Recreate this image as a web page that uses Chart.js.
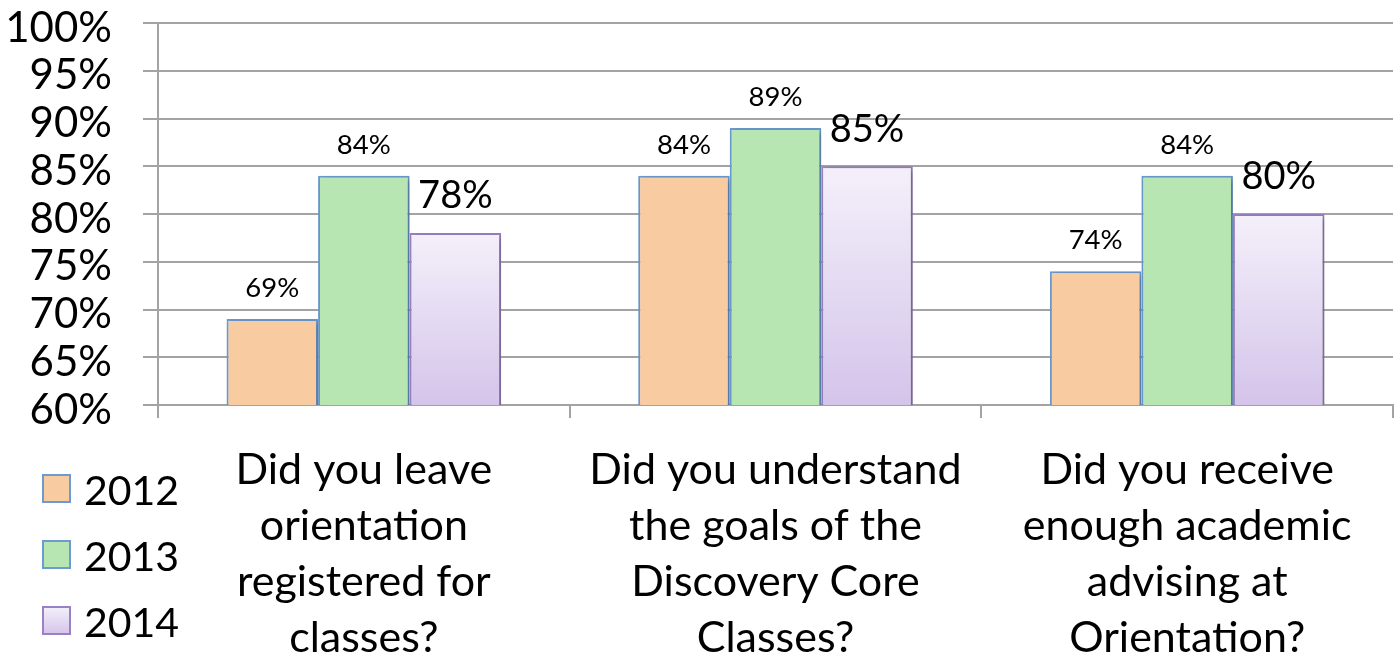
<!DOCTYPE html>
<html lang="en">
<head>
<meta charset="UTF-8">
<title>Orientation Survey</title>
<script src="https://cdn.jsdelivr.net/npm/chart.js"></script>
<style>
    body { margin: 0; background: #fff; }
    #wrap { width: 1396px; height: 657px; }
</style>
</head>
<body>
<div id="wrap"><canvas id="surveyChart" width="1396" height="657"></canvas></div>
<script>
const questions = [
    ['Did you leave', 'orientation', 'registered for', 'classes?'],
    ['Did you understand', 'the goals of the', 'Discovery Core', 'Classes?'],
    ['Did you receive', 'enough academic', 'advising at', 'Orientation?']
];
const years = ['2012', '2013', '2014'];
const values2012 = [69, 84, 74];
const values2013 = [84, 89, 84];
const values2014 = [78, 85, 80];
const yTickValues = [60, 65, 70, 75, 80, 85, 90, 95, 100];

const FONT = 'Lato, "Noto Sans", sans-serif';
const GRID = '#a3a3a3';

// 2014 bars fade from pale lavender at the top to light purple at the bottom
function lavender(ctx, top, bottom) {
    const g = ctx.createLinearGradient(0, top, 0, bottom);
    g.addColorStop(0, '#f4f0fa');
    g.addColorStop(1, '#d4c4ea');
    return g;
}

const shadowPlugin = {
    id: 'barShadow',
    beforeDatasetDraw(chart) {
        const c = chart.ctx;
        c.save();
        c.shadowColor = 'rgba(0,0,0,0.28)';
        c.shadowBlur = 6;
        c.shadowOffsetX = 3;
        c.shadowOffsetY = 2;
    },
    afterDatasetDraw(chart) {
        chart.ctx.restore();
    }
};

const valueLabels = {
    id: 'valueLabels',
    afterDatasetsDraw(chart) {
        const c = chart.ctx;
        c.save();
        c.fillStyle = '#000';
        c.textAlign = 'center';
        c.textBaseline = 'middle';
        chart.data.datasets.forEach((ds, i) => {
            const big = i === 2;
            c.font = (big ? 38 : 27.5) + 'px ' + FONT;
            chart.getDatasetMeta(i).data.forEach((bar, j) => {
                c.fillText(ds.data[j] + '%', bar.x, bar.y - (big ? 37 : 31));
            });
        });
        c.restore();
    }
};

const sideLegend = {
    id: 'sideLegend',
    afterDraw(chart) {
        const c = chart.ctx;
        c.save();
        c.font = '41px ' + FONT;
        c.textBaseline = 'middle';
        chart.data.datasets.forEach((ds, i) => {
            const y = 475 + i * 66;
            c.fillStyle = i === 2 ? lavender(c, y, y + 27) : ds.backgroundColor;
            c.fillRect(43, y, 27, 27);
            c.lineWidth = 2;
            c.strokeStyle = ds.borderColor;
            c.strokeRect(43, y, 27, 27);
            c.fillStyle = '#000';
            c.fillText(ds.label, 84, y + 17);
        });
        c.restore();
    }
};

new Chart(document.getElementById('surveyChart'), {
    type: 'bar',
    data: {
        labels: questions,
        datasets: [
            {
                label: years[0],
                data: values2012,
                backgroundColor: '#f9cba1',
                borderColor: '#6c9bd1',
                borderWidth: 2
            },
            {
                label: years[1],
                data: values2013,
                backgroundColor: '#b8e6b3',
                borderColor: '#6c9bd1',
                borderWidth: 2
            },
            {
                label: years[2],
                data: values2014,
                backgroundColor(context) {
                    const chart = context.chart;
                    if (!chart.chartArea || context.raw === undefined) return '#e4daf2';
                    const y = chart.scales.y;
                    return lavender(chart.ctx, y.getPixelForValue(context.raw), y.getPixelForValue(y.min));
                },
                borderColor: '#9a82c2',
                borderWidth: 2
            }
        ]
    },
    options: {
        responsive: false,
        animation: false,
        layout: { padding: { top: 23, right: 3, left: 0, bottom: 0 } },
        datasets: {
            bar: { categoryPercentage: 0.667, barPercentage: 1 }
        },
        plugins: {
            legend: { display: false },
            tooltip: { enabled: false }
        },
        scales: {
            x: {
                offset: true,
                grid: {
                    offset: true,
                    drawOnChartArea: false,
                    drawTicks: true,
                    tickLength: 13,
                    color: GRID,
                    lineWidth: 2
                },
                border: { color: GRID, width: 2 },
                ticks: {
                    color: '#000',
                    padding: 24,
                    maxRotation: 0,
                    autoSkip: false,
                    font: { family: FONT, size: 43, lineHeight: '56px' }
                },
                afterFit(scale) { scale.height = 252; }
            },
            y: {
                min: 60,
                max: 100,
                afterBuildTicks(scale) {
                    scale.ticks = yTickValues.map(v => ({ value: v }));
                },
                grid: {
                    color: GRID,
                    lineWidth: 2,
                    drawTicks: true,
                    tickLength: 15
                },
                border: { color: GRID, width: 2 },
                ticks: {
                    color: '#000',
                    padding: 31,
                    labelOffset: 5,
                    autoSkip: false,
                    font: { family: FONT, size: 42 },
                    callback: v => v + '%'
                },
                afterFit(scale) {
                    scale.width = 158;
                    scale.paddingTop = 0;
                    scale.paddingBottom = 0;
                }
            }
        }
    },
    plugins: [shadowPlugin, valueLabels, sideLegend]
});
</script>
</body>
</html>
